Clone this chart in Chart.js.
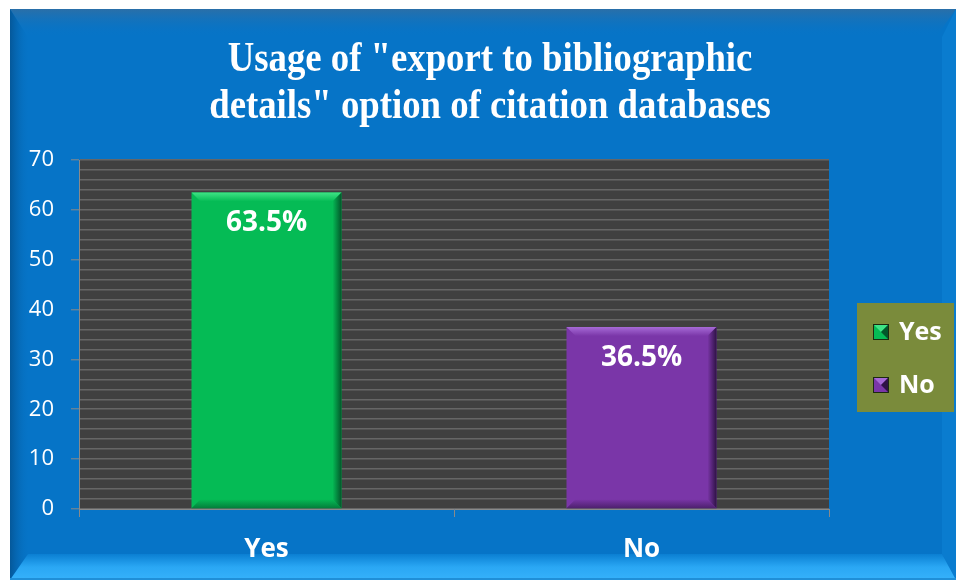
<!DOCTYPE html>
<html>
<head>
<meta charset="utf-8">
<script src="https://cdn.jsdelivr.net/npm/chart.js@4.4.1/dist/chart.umd.min.js"></script>
<style>
  html, body { margin: 0; padding: 0; background: #fff; }
  #wrap { width: 959px; height: 582px; position: relative; }
</style>
</head>
<body>
<div id="wrap"><canvas id="usageChart" width="959" height="582"></canvas></div>
<script>
var categories = ["Yes", "No"];
var percentValues = [63.5, 36.5];
var yTickLabels = [0, 10, 20, 30, 40, 50, 60, 70];
var titleLines = ['Usage of "export to bibliographic', 'details" option of citation databases'];

var barColors = ['#05bb55', '#7a36a8'];
var barLight = ['#3fe486', '#a66ad6'];
var barDark = ['#02562a', '#2f1246'];

// blue bevelled frame + dark plot background
var framePlugin = {
    id: 'frame',
    beforeDraw: function (chart) {
        var ctx = chart.ctx;
        var a = chart.chartArea;
        ctx.save();
        ctx.fillStyle = '#ffffff';
        ctx.fillRect(0, 0, chart.width, chart.height);

        var L = 10, T = 9, R = 956, B = 580;
        ctx.fillStyle = '#0674c7';
        ctx.fillRect(L, T, R - L, B - T);

        // top band
        var g = ctx.createLinearGradient(0, T, 0, T + 28);
        g.addColorStop(0, '#2a6fa8');
        g.addColorStop(1, 'rgba(6,116,199,0)');
        ctx.fillStyle = g;
        ctx.beginPath();
        ctx.moveTo(L, T); ctx.lineTo(R, T); ctx.lineTo(R - 20, T + 28); ctx.lineTo(L + 18, T + 28);
        ctx.closePath(); ctx.fill();

        // left band
        g = ctx.createLinearGradient(L, 0, L + 20, 0);
        g.addColorStop(0, '#04589a');
        g.addColorStop(1, 'rgba(6,116,199,0)');
        ctx.fillStyle = g;
        ctx.beginPath();
        ctx.moveTo(L, T); ctx.lineTo(L + 18, T + 28); ctx.lineTo(L + 18, B - 26); ctx.lineTo(L, B);
        ctx.closePath(); ctx.fill();

        // right band
        ctx.fillStyle = '#0a7ccf';
        ctx.beginPath();
        ctx.moveTo(R, T); ctx.lineTo(R, B); ctx.lineTo(R - 14, B - 26); ctx.lineTo(R - 14, T + 28);
        ctx.closePath(); ctx.fill();

        // bottom band
        g = ctx.createLinearGradient(0, B - 26, 0, B);
        g.addColorStop(0, '#0a7fd2');
        g.addColorStop(0.5, '#2aa7f4');
        g.addColorStop(1, '#36b2fb');
        ctx.fillStyle = g;
        ctx.beginPath();
        ctx.moveTo(L, B); ctx.lineTo(L + 18, B - 26); ctx.lineTo(R - 14, B - 26); ctx.lineTo(R, B);
        ctx.closePath(); ctx.fill();
        ctx.fillStyle = '#1f8fd8';
        ctx.fillRect(L, B - 2, R - L, 2);

        // plot background
        ctx.fillStyle = '#404040';
        ctx.fillRect(a.left, a.top, a.right - a.left, a.bottom - a.top);
        ctx.restore();
    },
    afterDraw: function (chart) {
        var ctx = chart.ctx;
        ctx.save();
        // title (condensed serif)
        ctx.fillStyle = '#ffffff';
        ctx.font = 'bold 42px "Liberation Serif"';
        ctx.textAlign = 'center';
        ctx.textBaseline = 'alphabetic';
        var cx = 490;
        titleLines.forEach(function (line, i) {
            ctx.save();
            ctx.translate(cx, 71 + i * 47);
            ctx.scale(0.875, 1);
            ctx.fillText(line, 0, 0);
            ctx.restore();
        });

        // legend box
        var lx = 857, ly = 303, lw = 97, lh = 109;
        ctx.fillStyle = '#7a8b3b';
        ctx.fillRect(lx, ly, lw, lh);
        ctx.font = 'bold 25px "Open Sans"';
        ctx.textAlign = 'left';
        ctx.textBaseline = 'middle';
        categories.forEach(function (cat, i) {
            var my = ly + 29 + i * 53;
            var bx = lx + 16, by = my - 8, s = 16;
            ctx.fillStyle = barColors[i];
            ctx.fillRect(bx, by, s, s);
            ctx.fillStyle = barLight[i];
            ctx.beginPath(); ctx.moveTo(bx, by); ctx.lineTo(bx + s, by); ctx.lineTo(bx + s / 2, by + s / 2); ctx.closePath(); ctx.fill();
            ctx.fillStyle = barDark[i];
            ctx.beginPath(); ctx.moveTo(bx + s, by); ctx.lineTo(bx + s, by + s); ctx.lineTo(bx + s / 2, by + s / 2); ctx.closePath(); ctx.fill();
            ctx.strokeStyle = '#1c2a10';
            ctx.lineWidth = 1;
            ctx.strokeRect(bx + 0.5, by + 0.5, s - 1, s - 1);
            ctx.fillStyle = '#ffffff';
            ctx.fillText(cat, lx + 42, my + 1);
        });
        ctx.restore();
    }
};

// bevel on each bar + value label inside the top
var barDecorPlugin = {
    id: 'barDecor',
    afterDatasetsDraw: function (chart) {
        var ctx = chart.ctx;
        var meta = chart.getDatasetMeta(0);
        ctx.save();
        meta.data.forEach(function (bar, i) {
            var p = bar.getProps(['x', 'y', 'base', 'width'], true);
            var l = p.x - p.width / 2, r = p.x + p.width / 2, t = p.y, b = p.base;
            var e = 9;
            // top bevel
            var g = ctx.createLinearGradient(0, t, 0, t + e);
            g.addColorStop(0, barLight[i]);
            g.addColorStop(1, barColors[i]);
            ctx.fillStyle = g;
            ctx.beginPath(); ctx.moveTo(l, t); ctx.lineTo(r, t); ctx.lineTo(r - e, t + e); ctx.lineTo(l + e, t + e); ctx.closePath(); ctx.fill();
            // right bevel
            g = ctx.createLinearGradient(r - e, 0, r, 0);
            g.addColorStop(0, barColors[i]);
            g.addColorStop(1, barDark[i]);
            ctx.fillStyle = g;
            ctx.beginPath(); ctx.moveTo(r, t); ctx.lineTo(r, b); ctx.lineTo(r - e, b - e); ctx.lineTo(r - e, t + e); ctx.closePath(); ctx.fill();
            // bottom bevel
            g = ctx.createLinearGradient(0, b - e, 0, b);
            g.addColorStop(0, barColors[i]);
            g.addColorStop(1, barDark[i]);
            ctx.fillStyle = g;
            ctx.globalAlpha = 0.6;
            ctx.beginPath(); ctx.moveTo(l, b); ctx.lineTo(l + e, b - e); ctx.lineTo(r - e, b - e); ctx.lineTo(r, b); ctx.closePath(); ctx.fill();
            ctx.globalAlpha = 1;

            ctx.fillStyle = '#ffffff';
            ctx.font = 'bold 28px "Open Sans"';
            ctx.textAlign = 'center';
            ctx.textBaseline = 'middle';
            ctx.fillText(percentValues[i].toFixed(1) + '%', p.x, t + 31);
        });
        ctx.restore();
    }
};

var chart = new Chart(document.getElementById("usageChart"), {
    type: 'bar',
    data: {
        labels: categories,
        datasets: [{
            label: 'Usage',
            data: percentValues,
            backgroundColor: barColors,
            borderWidth: 0,
            categoryPercentage: 0.8,
            barPercentage: 0.5
        }]
    },
    options: {
        responsive: false,
        animation: false,
        layout: { padding: { left: 10, right: 130, top: 160, bottom: 10 } },
        plugins: {
            legend: { display: false },
            title: { display: false },
            tooltip: { enabled: false }
        },
        scales: {
            x: {
                afterFit: function (scale) { scale.height = 63; },
                grid: {
                    offset: true,
                    drawOnChartArea: false,
                    drawTicks: true,
                    tickLength: 8,
                    color: '#8a8a8a',
                    lineWidth: 1
                },
                border: { color: '#8a8a8a', width: 1 },
                ticks: {
                    color: '#ffffff',
                    padding: 17,
                    font: { family: '"Open Sans"', size: 26, weight: 'bold' }
                }
            },
            y: {
                min: 0,
                max: 70,
                afterFit: function (scale) { scale.width = 69; },
                afterBuildTicks: function (scale) {
                    var t = [];
                    for (var v = 0; v <= 70; v += 2) t.push({ value: v });
                    scale.ticks = t;
                },
                grid: {
                    color: '#666666',
                    lineWidth: 1.6,
                    tickLength: 8,
                    tickColor: function (c) {
                        return yTickLabels.indexOf(c.tick.value) >= 0 ? '#8a8a8a' : 'rgba(0,0,0,0)';
                    },
                    tickWidth: 1
                },
                border: { color: '#8a8a8a', width: 1 },
                ticks: {
                    autoSkip: false,
                    color: '#ffffff',
                    padding: 17,
                    font: { family: '"Open Sans"', size: 22 },
                    callback: function (v) { return yTickLabels.indexOf(v) >= 0 ? String(v) : ''; }
                }
            }
        }
    },
    plugins: [framePlugin, barDecorPlugin]
});
</script>
</body>
</html>
